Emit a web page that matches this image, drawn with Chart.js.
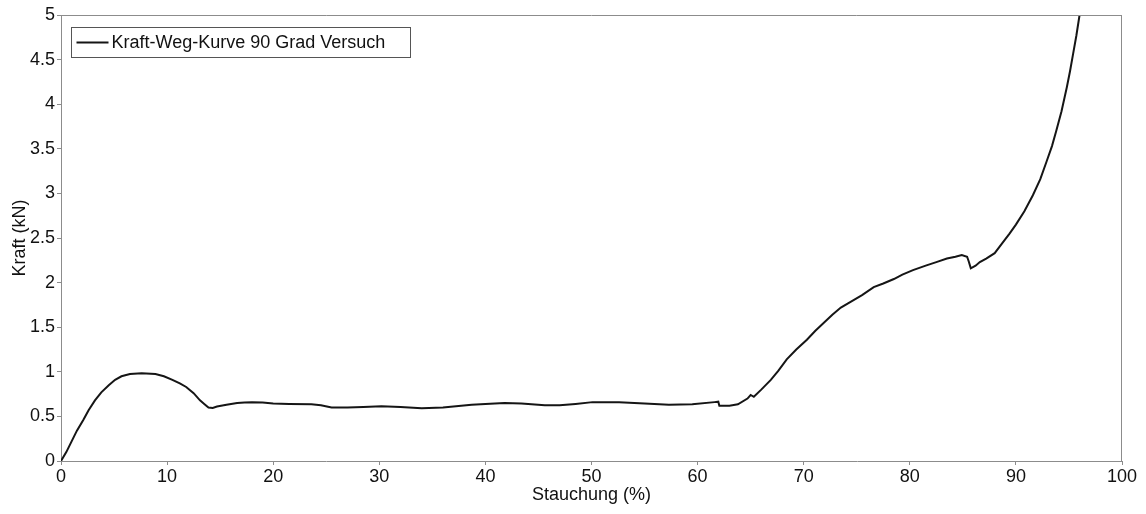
<!DOCTYPE html>
<html>
<head>
<meta charset="utf-8">
<script src="https://cdn.jsdelivr.net/npm/chart.js@4/dist/chart.umd.min.js"></script>
<style>
html,body{margin:0;padding:0;background:#fff;}
#wrap{width:1146px;height:514px;position:relative;}
</style>
</head>
<body>
<div id="wrap"><canvas id="c" width="1146" height="514"></canvas></div>
<script>
const seriesLabel = 'Kraft-Weg-Kurve 90 Grad Versuch';
const xTitle = 'Stauchung (%)';
const yTitle = 'Kraft (kN)';
const stauchung = [0, 0.5, 1.0, 1.5, 2.1, 2.6, 3.2, 3.8, 4.5, 5.1, 5.7, 6.5, 7.6, 8.9, 9.7, 10.5, 11.2, 11.8, 12.5, 13.1, 13.5, 13.9, 14.3, 14.7, 15.6, 16.6, 17.3, 18.0, 19, 20, 21.5, 23.6, 24.5, 25.5, 27, 28.5, 30.2, 32, 34, 36, 38.7, 40, 41.8, 43.4, 45.6, 47, 48.5, 50.1, 52.6, 55, 57.3, 59.5, 61.6, 61.95, 62.05, 63, 63.8, 64.7, 65.0, 65.3, 66.0, 66.9, 67.6, 68.4, 69.3, 70.3, 71.1, 71.9, 72.7, 73.5, 74.5, 75.5, 76.6, 77.5, 78.5, 79.3, 80.3, 81.5, 82.5, 83.5, 84.3, 84.9, 85.4, 85.55, 85.75, 86.2, 86.6, 87.2, 88, 88.7, 89.4, 90, 90.8, 91.6, 92.3, 92.9, 93.4, 93.8, 94.3, 94.8, 95.1, 95.4, 95.7, 96.0, 96.2];
const kraft = [0, 0.1, 0.22, 0.34, 0.46, 0.57, 0.68, 0.77, 0.85, 0.91, 0.95, 0.975, 0.985, 0.975, 0.95, 0.91, 0.87, 0.83, 0.76, 0.68, 0.64, 0.60, 0.595, 0.61, 0.63, 0.65, 0.655, 0.66, 0.655, 0.645, 0.64, 0.635, 0.625, 0.60, 0.60, 0.605, 0.615, 0.605, 0.59, 0.60, 0.63, 0.64, 0.65, 0.645, 0.625, 0.625, 0.64, 0.66, 0.66, 0.645, 0.63, 0.635, 0.66, 0.665, 0.62, 0.62, 0.635, 0.70, 0.74, 0.72, 0.80, 0.91, 1.01, 1.14, 1.25, 1.36, 1.46, 1.55, 1.64, 1.72, 1.79, 1.86, 1.95, 1.99, 2.04, 2.09, 2.14, 2.19, 2.23, 2.27, 2.29, 2.31, 2.29, 2.24, 2.16, 2.19, 2.23, 2.27, 2.33, 2.44, 2.55, 2.65, 2.80, 2.98, 3.16, 3.36, 3.53, 3.70, 3.92, 4.19, 4.37, 4.57, 4.77, 5.0, 5.12];
const xTicks = [0, 10, 20, 30, 40, 50, 60, 70, 80, 90, 100];
const yTicks = [0, 0.5, 1, 1.5, 2, 2.5, 3, 3.5, 4, 4.5, 5];

const points = stauchung.map((x, i) => ({x: x, y: kraft[i]}));
const FONT = 'Arial, "Liberation Sans", sans-serif';
const AXIS = '#8c8c8c';

const frameAndLegend = {
  id: 'frameAndLegend',
  afterDraw(chart) {
    const {ctx, chartArea: a} = chart;
    ctx.save();
    ctx.strokeStyle = AXIS;
    ctx.lineWidth = 1;
    ctx.beginPath();
    ctx.moveTo(a.left, a.top + 0.5); ctx.lineTo(a.right, a.top + 0.5);
    ctx.moveTo(a.right - 0.5, a.top); ctx.lineTo(a.right - 0.5, a.bottom);
    ctx.stroke();
    // legend
    const ds = chart.data.datasets[0];
    const bx = a.left + 10.5, by = a.top + 12.5, bw = 339, bh = 30;
    ctx.fillStyle = '#fff';
    ctx.fillRect(bx, by, bw, bh);
    ctx.strokeStyle = '#555';
    ctx.strokeRect(bx, by, bw, bh);
    ctx.strokeStyle = ds.borderColor;
    ctx.lineWidth = 2;
    ctx.beginPath();
    ctx.moveTo(bx + 5, by + bh / 2); ctx.lineTo(bx + 37, by + bh / 2);
    ctx.stroke();
    ctx.fillStyle = '#111';
    ctx.font = '18px ' + FONT;
    ctx.textBaseline = 'middle';
    ctx.textAlign = 'left';
    ctx.fillText(ds.label, bx + 40, by + bh / 2 + 1);
    ctx.restore();
  }
};

new Chart(document.getElementById('c'), {
  type: 'line',
  data: {
    datasets: [{
      label: seriesLabel,
      data: points,
      borderColor: '#151515',
      borderWidth: 2,
      pointRadius: 0,
      tension: 0,
      fill: false
    }]
  },
  options: {
    responsive: false,
    animation: false,
    layout: {padding: {left: 0, top: 15, right: 24, bottom: 0}},
    plugins: {legend: {display: false}, tooltip: {enabled: false}},
    scales: {
      x: {
        type: 'linear', min: 0, max: 100,
        afterFit: s => { s.height = 53; },
        afterBuildTicks: s => { s.ticks = xTicks.map(v => ({value: v})); },
        grid: {drawOnChartArea: false, color: AXIS, tickLength: 4, tickColor: AXIS},
        border: {color: AXIS, width: 1},
        ticks: {color: '#111', font: {family: FONT, size: 18}, padding: 1, maxRotation: 0},
        title: {display: true, text: xTitle, color: '#111', font: {family: FONT, size: 18}, padding: {top: 0, bottom: 8}}
      },
      y: {
        type: 'linear', min: 0, max: 5,
        afterFit: s => { s.width = 61; },
        afterBuildTicks: s => { s.ticks = yTicks.map(v => ({value: v})); },
        grid: {drawOnChartArea: false, color: AXIS, tickLength: 4, tickColor: AXIS},
        border: {color: AXIS, width: 1},
        ticks: {color: '#111', font: {family: FONT, size: 18}, padding: 2, callback: v => String(v)},
        title: {display: true, text: yTitle, color: '#111', font: {family: FONT, size: 18}, padding: {top: 9, bottom: 0}}
      }
    }
  },
  plugins: [frameAndLegend]
});
</script>
</body>
</html>
